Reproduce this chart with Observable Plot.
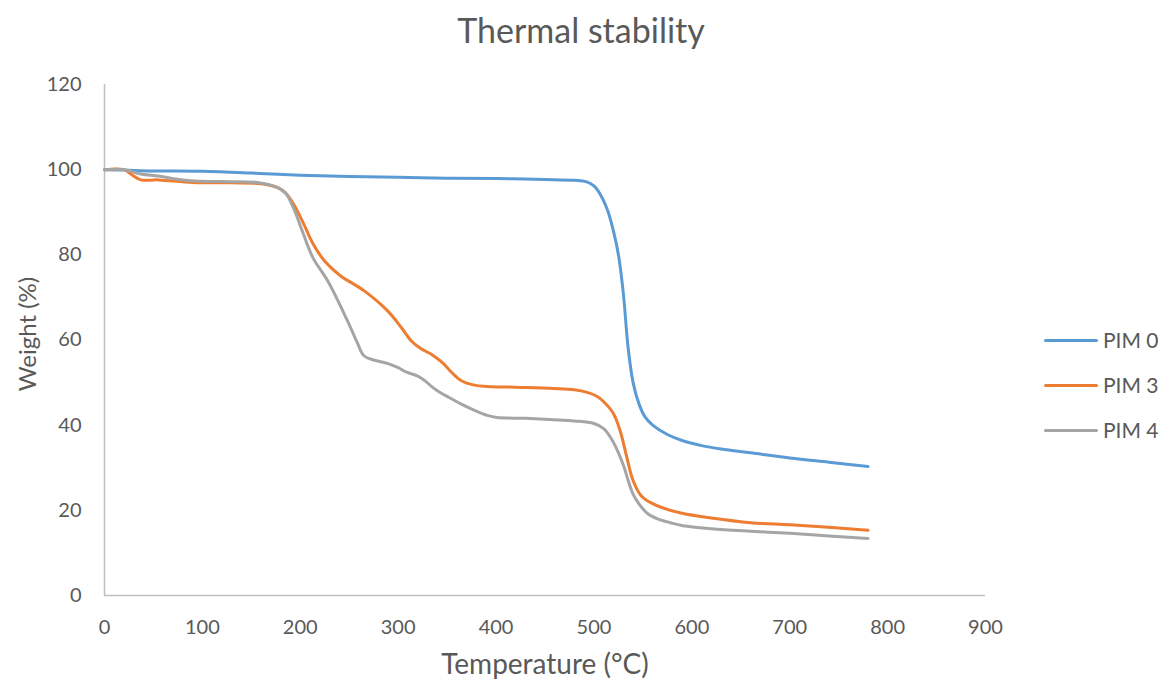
<!DOCTYPE html>
<html>
<head>
<meta charset="utf-8">
<script src="https://cdn.jsdelivr.net/npm/d3@7"></script>
<script src="https://cdn.jsdelivr.net/npm/@observablehq/plot@0.6"></script>
<style>
  html, body { margin: 0; padding: 0; background: #fff; }
  #wrap { position: relative; width: 1162px; height: 680px; font-family: Lato, "Open Sans", sans-serif; color: #595959; }
  #title { height: 60px; line-height: 60px; text-align: center; font-size: 34px; color: #595959; }
  #legend { position: absolute; left: 1044px; top: 0; }
  .item { position: absolute; left: 0; width: 130px; height: 24px; }
  .item .ln { position: absolute; left: 0; top: 11px; width: 54px; height: 3px; border-radius: 1.5px; }
  .item .tx { position: absolute; left: 59px; top: 0; font-size: 21px; line-height: 24px; white-space: nowrap; }
</style>
</head>
<body>
<div id="wrap">
  <div id="title">Thermal stability</div>
  <div id="chart"></div>
  <div id="legend"></div>
</div>
<script>
const seriesNames = ["PIM 0", "PIM 3", "PIM 4"];
const seriesColors = ["#5b9bd5", "#ed7d31", "#a5a5a5"];
const xTicks = [0, 100, 200, 300, 400, 500, 600, 700, 800, 900];
const yTicks = [0, 20, 40, 60, 80, 100, 120];

const pim0T = [0, 20, 50, 100, 150, 200, 250, 300, 350, 400, 450, 480, 492, 500, 507, 514, 520, 525, 530, 535, 540, 546, 552, 560, 575, 590, 610, 630, 660, 700, 740, 780];
const pim0W = [100, 99.9, 99.7, 99.6, 99.2, 98.7, 98.4, 98.2, 98.0, 97.9, 97.7, 97.5, 97.2, 96.2, 94, 90.4, 85.5, 80, 71, 58, 50, 45, 42, 40, 37.8, 36.4, 35.2, 34.4, 33.5, 32.3, 31.3, 30.3];

const pim3T = [0, 20, 28, 37, 55, 90, 130, 160, 177, 185, 193, 203, 213, 225, 241, 265, 289, 303, 313, 323, 335, 346, 355, 364, 378, 391, 420, 459, 480, 493, 503, 510, 520, 527, 533, 540, 548, 558, 570, 590, 620, 660, 700, 740, 780];
const pim3W = [100, 100, 98.8, 97.6, 97.6, 97.0, 96.9, 96.7, 95.8, 94.5, 92, 87.5, 82.6, 78.5, 75.1, 71.6, 66.9, 63, 59.9, 58, 56.5, 54.5, 52.3, 50.5, 49.4, 49.1, 48.9, 48.6, 48.3, 47.7, 46.8, 45.5, 42.7, 38.5, 33, 27, 23.5, 21.8, 20.6, 19.3, 18.2, 17.1, 16.6, 16.0, 15.3];

const pim4T = [0, 20, 37, 55, 70, 88, 120, 156, 177, 185, 193, 203, 213, 228, 248, 258, 265, 275, 289, 300, 308, 313, 320, 327, 333, 340, 352, 364, 378, 391, 401, 430, 459, 480, 500, 510, 517, 522, 527, 531, 535, 540, 546, 555, 565, 578, 591, 620, 660, 700, 740, 780];
const pim4W = [100, 100, 99, 98.5, 97.9, 97.4, 97.2, 97.0, 95.8, 94.5, 91, 85, 79.3, 73.9, 64.6, 59.5, 56.3, 55.3, 54.5, 53.5, 52.5, 52.1, 51.5, 50.5, 49.3, 48.1, 46.5, 45, 43.5, 42.3, 41.8, 41.6, 41.3, 41.0, 40.4, 39.2, 37.1, 35, 32.4, 30, 27, 23.8, 21.5, 19.2, 18, 17.1, 16.4, 15.7, 15.1, 14.6, 14.0, 13.4];

const allT = [pim0T, pim3T, pim4T];
const allW = [pim0W, pim3W, pim4W];
const rows = [];
seriesNames.forEach((s, i) => {
  allT[i].forEach((t, j) => rows.push({series: s, t, w: allW[i][j]}));
});

const font = "Lato, 'Open Sans', sans-serif";
const chart = Plot.plot({
  width: 1162,
  height: 620,
  marginTop: 24,
  marginBottom: 85,
  marginLeft: 104,
  marginRight: 177,
  style: {fontFamily: font, fontSize: "20px", color: "#595959", background: "transparent", overflow: "visible"},
  x: {domain: [0, 900], ticks: xTicks},
  y: {domain: [0, 120], ticks: yTicks},
  color: {domain: seriesNames, range: seriesColors},
  marks: [
    Plot.axisX({ticks: xTicks, tickSize: 0, tickPadding: 24, label: null, fill: "#595959"}),
    Plot.axisY({ticks: yTicks, tickSize: 0, tickPadding: 23, label: null, fill: "#595959"}),
    Plot.ruleY([0], {stroke: "#bfbfbf", strokeWidth: 1.5}),
    Plot.ruleX([0], {stroke: "#bfbfbf", strokeWidth: 1.5}),
    Plot.line(rows, {x: "t", y: "w", z: "series", stroke: "series", strokeWidth: 3, curve: "catmull-rom", strokeLinecap: "round"}),
    Plot.text(["Temperature (°C)"], {frameAnchor: "bottom", dy: 70, fontSize: 28, fill: "#595959", lineAnchor: "middle", textAnchor: "middle"}),
    Plot.text(["Weight (%)"], {frameAnchor: "left", dx: -76, dy: -6, rotate: -90, fontSize: 24, fill: "#595959", lineAnchor: "middle", textAnchor: "middle"})
  ]
});
document.getElementById("chart").appendChild(chart);

const legend = document.getElementById("legend");
const legendTops = [328, 373, 418];
seriesNames.forEach((s, i) => {
  const it = document.createElement("div");
  it.className = "item";
  it.style.top = legendTops[i] + "px";
  it.innerHTML = `<div class="ln" style="background:${seriesColors[i]}"></div><div class="tx">${s}</div>`;
  legend.appendChild(it);
});
</script>
</body>
</html>
